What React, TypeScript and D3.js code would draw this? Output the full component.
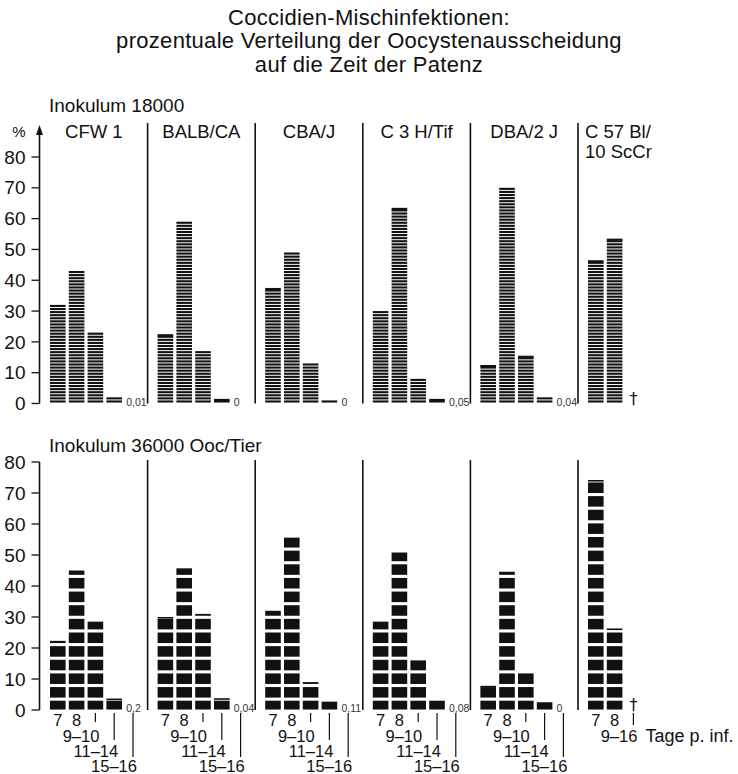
import React from "react";
import * as d3 from "d3";

// ---------- data ----------
const titleLines = [
  "Coccidien-Mischinfektionen:",
  "prozentuale Verteilung der Oocystenausscheidung",
  "auf die Zeit der Patenz",
];
const strains = ["CFW 1", "BALB/CA", "CBA/J", "C 3 H/Tif", "DBA/2 J", "C 57 Bl/10 ScCr"];
const strainTitleLines = [["CFW 1"], ["BALB/CA"], ["CBA/J"], ["C 3 H/Tif"], ["DBA/2 J"], ["C 57 Bl/", "10 ScCr"]];
const days = ["7", "8", "9–10", "11–14", "15–16"];
const daysC57 = ["7", "8", "9–16"];
const yTicks = [0, 10, 20, 30, 40, 50, 60, 70, 80];

const topLabel = "Inokulum 18000";
const bottomLabel = "Inokulum 36000 Ooc/Tier";
const xAxisTitle = "Tage p. inf.";

// % of oocyst output per day group, inoculum 18000
const top18000 = [
  [32, 43, 23, 2],
  [22.5, 59, 17, 1.5],
  [37.5, 49, 13, 1],
  [30, 63.5, 8, 1.5],
  [12.5, 70, 15.5, 2],
  [46.5, 53.5],
];
const topTail = ["0,01", "0", "0", "0,05", "0,04", "†"];

// inoculum 36000
const bot36000 = [
  [22.3, 45, 28.5, 3.7],
  [30, 45.7, 31, 3.8],
  [32, 55.6, 9, 2.7],
  [28.5, 50.8, 16, 3],
  [7.8, 44.6, 11.8, 2.5],
  [74.2, 26.3],
];
const botTail = ["0,2", "0,04", "0,11", "0,08", "0", "†"];

// ---------- layout ----------
const W = 738;
const H = 774;
const INK = "#111";
const FONT = "'Liberation Sans', Arial, Helvetica, sans-serif";

const xPanel = d3.scaleBand<string>().domain(strains).range([40, 40 + 6 * 107.6]).padding(0);
const slotIdx = [0, 1, 2, 3, 4].map(String);
function inner(strain: string) {
  const x0 = xPanel(strain)!;
  return d3.scaleBand<string>().domain(slotIdx).range([x0 + 10, x0 + 10 + 90.8]).paddingInner(0.17);
}

const yTop = d3.scaleLinear().domain([0, 80]).range([403.5, 157]);
const yBot = d3.scaleLinear().domain([0, 80]).range([710, 462]);

// thin-line screen for the upper panel (1 line per %)
function thinLines(v: number, y: d3.ScaleLinear<number, number>) {
  const out: { y0: number; h: number }[] = [];
  const n = Math.floor(v);
  for (let k = 1; k <= n; k++) out.push({ y0: y(k), h: 2.1 });
  if (v - n >= 0.3) out.push({ y0: y(v), h: 2.1 });
  return out;
}

// block screen for the lower panel
const P = 4.4;
const FIRST_TOP = 3.0;
const GAP = 1.0;
function blocks(v: number, y: d3.ScaleLinear<number, number>) {
  const out: { y0: number; h: number }[] = [];
  for (let k = 0; k < 40; k++) {
    const t = FIRST_TOP + k * P;
    const b = k === 0 ? 0.15 : t - (P - GAP);
    if (b >= v) {
      break;
    }
    const top = Math.min(t, v);
    let h = y(b) - y(top);
    if (h < 1.6) h = 1.6;
    out.push({ y0: y(top), h });
    const nextB = FIRST_TOP + (k + 1) * P - (P - GAP);
    if (v > t && v < nextB) {
      out.push({ y0: y(v), h: 1.6 });
      break;
    }
  }
  return out;
}

function Panel({ data, tails, y, kind }: { data: number[][]; tails: string[]; y: d3.ScaleLinear<number, number>; kind: "top" | "bot" }) {
  const axisTop = kind === "top" ? 128 : y(80);
  const divTop = kind === "top" ? 123 : 460;
  return (
    <g>
      {/* y axis */}
      <line x1={39.5} x2={39.5} y1={y(0)} y2={axisTop + (kind === "top" ? 6 : 0)} stroke={INK} strokeWidth={1.6} />
      {kind === "top" && <path d={`M39.5,${axisTop - 3} L36,${axisTop + 7} L43,${axisTop + 7} Z`} fill={INK} />}
      {yTicks.map((t) => (
        <g key={t}>
          <line x1={31.5} x2={39.5} y1={y(t)} y2={y(t)} stroke={INK} strokeWidth={1.3} />
          <text x={25.5} y={y(t)} dy="0.35em" textAnchor="end" fontSize={19} fontFamily={FONT} fill={INK}>
            {t}
          </text>
        </g>
      ))}
      {/* dividers */}
      {strains.slice(1).map((s) => (
        <line key={s} x1={xPanel(s)!} x2={xPanel(s)!} y1={divTop} y2={y(0)} stroke={INK} strokeWidth={1.6} />
      ))}
      {/* bars */}
      {strains.map((s, si) => {
        const xi = inner(s);
        const bw = xi.bandwidth();
        return (
          <g key={s}>
            {data[si].map((v, i) => {
              const x = xi(String(i))!;
              const segs = kind === "top" ? thinLines(v, y) : blocks(v, y);
              return (
                <g key={i}>
                  {segs.map((sg, j) => (
                    <rect key={j} x={x} y={sg.y0} width={bw} height={sg.h} fill={INK} />
                  ))}
                </g>
              );
            })}
            {tails[si] === "†" ? (
              <text
                x={xi(String(data[si].length))! + bw / 2}
                y={y(0)}
                textAnchor="middle"
                fontSize={16}
                fontFamily="'DejaVu Sans', sans-serif"
                fill={INK}
              >
                {tails[si]}
              </text>
            ) : (
              <text
                x={xi(String(data[si].length))! + 1}
                y={y(0) + 2}
                textAnchor="start"
                fontSize={10.5}
                fontFamily={FONT}
                fill="#333"
              >
                {tails[si]}
              </text>
            )}
          </g>
        );
      })}
    </g>
  );
}

export default function App() {
  const tickEnds = [722, 740, 757];
  const labelBase = [741.5, 757, 772];
  return (
    <svg width={W} height={H} style={{ position: "absolute", left: 0, top: 0, background: "#fff" }}>
      <rect width={W} height={H} fill="#fff" />
      {/* title */}
      {titleLines.map((t, i) => (
        <text key={t} x={369} y={25 + i * 23.3} textAnchor="middle" fontSize={22} letterSpacing={0.3} fontFamily={FONT} fill={INK}>
          {t}
        </text>
      ))}

      <text x={49} y={111.5} fontSize={19} fontFamily={FONT} fill={INK}>
        {topLabel}
      </text>
      <text x={25.5} y={137} textAnchor="end" fontSize={15} fontFamily={FONT} fill={INK}>
        %
      </text>

      {/* strain titles */}
      {strains.map((s, si) => {
        const lines = strainTitleLines[si];
        const x0 = xPanel(s)!;
        const multi = lines.length > 1;
        return lines.map((ln, li) => (
          <text
            key={s + li}
            x={multi ? x0 + 7 : x0 + xPanel.bandwidth() / 2}
            y={137.5 + li * 20}
            textAnchor={multi ? "start" : "middle"}
            fontSize={18.5}
            fontFamily={FONT}
            fill={INK}
          >
            {ln}
          </text>
        ));
      })}

      <Panel data={top18000} tails={topTail} y={yTop} kind="top" />

      <text x={49} y={451.5} fontSize={19} fontFamily={FONT} fill={INK}>
        {bottomLabel}
      </text>

      <Panel data={bot36000} tails={botTail} y={yBot} kind="bot" />

      {/* x axis category labels (bottom panel) */}
      {strains.map((s, si) => {
        const xi = inner(s);
        const bw = xi.bandwidth();
        const c = (i: number) => xi(String(i))! + bw / 2;
        const cats = si === 5 ? daysC57 : days;
        return (
          <g key={s}>
            {cats.map((d, i) => {
              if (i < 2) {
                return (
                  <text key={d} x={c(i)} y={725.5} textAnchor="middle" fontSize={16.5} fontFamily={FONT} fill={INK}>
                    {d}
                  </text>
                );
              }
              const k = i - 2;
              const tEnd = si === 5 ? 725 : tickEnds[k];
              return (
                <g key={d}>
                  <line x1={c(i)} x2={c(i)} y1={713} y2={tEnd} stroke={INK} strokeWidth={1.2} />
                  <text x={c(i) + 4} y={labelBase[k]} textAnchor="end" fontSize={16.5} fontFamily={FONT} fill={INK}>
                    {d}
                  </text>
                </g>
              );
            })}
          </g>
        );
      })}
      <text x={645.5} y={741.5} fontSize={18} fontFamily={FONT} fill={INK}>
        {xAxisTitle}
      </text>
    </svg>
  );
}
